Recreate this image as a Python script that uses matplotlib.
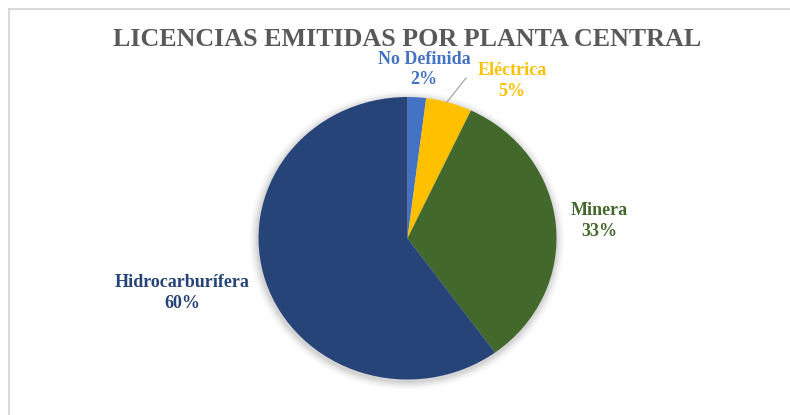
import matplotlib
matplotlib.use("Agg")
import matplotlib.pyplot as plt
from matplotlib.lines import Line2D
from matplotlib.patches import Ellipse

categories = ["No Definida", "Eléctrica", "Minera", "Hidrocarburífera"]
values = [2, 5, 33, 60]
colors = ["#4472C4", "#FFC000", "#43682B", "#264478"]
title = "LICENCIAS EMITIDAS POR PLANTA CENTRAL"

W, H = 790, 415
fig = plt.figure(figsize=(W / 100, H / 100), dpi=100)
fig.patch.set_facecolor("white")

def fx(px):
    return px / W

def fy(py):
    return 1 - py / H

# border (top and left visible)
fig.add_artist(Line2D([fx(9), fx(790)], [fy(9.5), fy(9.5)], color="#D9D9D9", lw=1.5))
fig.add_artist(Line2D([fx(9), fx(9)], [fy(9.5), fy(415)], color="#D9D9D9", lw=1.5))

# pie axes
left, right, top, bottom = 258.5, 556.5, 97, 379.5
ax = fig.add_axes([fx(left), fy(bottom), (right - left) / W, (bottom - top) / H])

# soft shadow
for i, a in enumerate([0.05, 0.045, 0.035, 0.025, 0.015]):
    s = 1.0 + 0.012 * (i + 1)
    e = Ellipse((-0.004, -0.014), 2 * s, 2 * s, color="#000000", alpha=a, lw=0, zorder=0)
    e.set_clip_on(False)
    ax.add_patch(e)

wedges, _ = ax.pie(values, colors=colors, startangle=90, counterclock=False,
                   radius=1, wedgeprops=dict(linewidth=0))
for w in wedges:
    w.set_zorder(2)
ax.set_aspect("auto")
ax.set_xlim(-1, 1)
ax.set_ylim(-1, 1)
ax.axis("off")

# title
fig.text(fx(407.5), fy(39), title, ha="center", va="center", fontsize=18.7,
         fontweight="bold", family="Liberation Serif", color="#595959")

# data labels
label_pos = [(424, 69.5), (512, 81), (599, 221), (182, 293)]
for cat, v, c, (px, py) in zip(categories, values, colors, label_pos):
    fig.text(fx(px), fy(py), f"{cat}\n{v}%", ha="center", va="center",
             multialignment="center", fontsize=13, fontweight="bold",
             family="Liberation Serif", color=c, linespacing=1.3)

# leader line for Eléctrica
fig.add_artist(Line2D([fx(466), fx(447)], [fy(78), fy(102)], color="#A6A6A6", lw=0.9))

fig.savefig("out.png", dpi=100, facecolor="white")
